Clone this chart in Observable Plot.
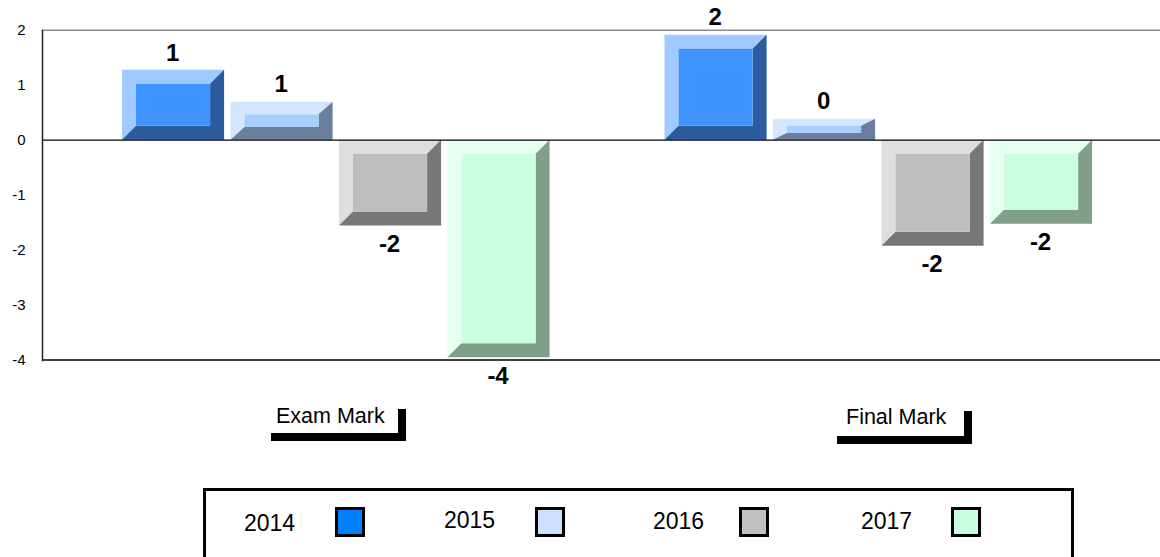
<!DOCTYPE html>
<html>
<head>
<meta charset="utf-8">
<script src="https://cdn.jsdelivr.net/npm/d3@7"></script>
<script src="https://cdn.jsdelivr.net/npm/@observablehq/plot@0.6"></script>
<style>
html,body{margin:0;padding:0;background:#fff;width:1160px;height:557px;overflow:hidden;font-family:"Liberation Sans",Arial,sans-serif;color:#000}
#chart{position:absolute;left:0;top:0}
.abs{position:absolute;white-space:nowrap;line-height:1}
.blk{position:absolute;background:#000}
.sw{position:absolute;box-sizing:border-box;width:30px;height:30px;border:3px solid #000;top:507px}
</style>
</head>
<body>
<div id="chart"></div>
<div id="overlay"></div>
<script>
const groups = ["Exam Mark", "Final Mark"];
const years = ["2014", "2015", "2016", "2017"];
const exam = [1.27, 0.69, -1.56, -3.96];
const final = [1.91, 0.38, -1.93, -1.53];
const yTicks = [2, 1, 0, -1, -2, -3, -4];
const frontColors = ["#3f94ff", "#a8ceff", "#bebebe", "#ccffe0"];
const lightColors = ["#9fc9ff", "#d3e5ff", "#dedede", "#e5fff0"];
const darkColors = ["#2a5c9f", "#6a7f9d", "#777777", "#7f9f8b"];
const legendColors = ["#0080ff", "#cce0ff", "#c0c0c0", "#c8ffe0"];

const rows = [
  ...years.map((year, i) => ({key: groups[0] + year, year: i, value: exam[i]})),
  ...years.map((year, i) => ({key: groups[1] + year, year: i, value: final[i]}))
];
const domain = [...rows.slice(0, 4).map(d => d.key), "gap", ...rows.slice(4).map(d => d.key)];

function bevel(index, scales, values, dims, ctx, next) {
  const g = next(index, scales, values, dims, ctx);
  d3.select(g).selectAll("*").remove();
  const layer = d3.select(g);
  const bw = typeof scales.x.bandwidth === "function" ? scales.x.bandwidth() : scales.x.bandwidth;
  for (const i of index) {
    const d = rows[i];
    const l = scales.x(d.key), r = l + bw;
    const t = Math.min(scales.y(0), scales.y(d.value)), b = Math.max(scales.y(0), scales.y(d.value));
    const bx = 14, by = Math.min(14, (b - t) / 3);
    const poly = (pts, fill) => layer.append("polygon").attr("points", pts.map(p => p.join(",")).join(" ")).attr("fill", fill);
    poly([[l, t], [r, t], [r - bx, t + by], [l + bx, t + by], [l + bx, b - by], [l, b]], lightColors[d.year]);
    poly([[r, t], [r, b], [l, b], [l + bx, b - by], [r - bx, b - by], [r - bx, t + by]], darkColors[d.year]);
    poly([[l + bx, t + by], [r - bx, t + by], [r - bx, b - by], [l + bx, b - by]], frontColors[d.year]);
  }
  return g;
}

const fmt = d => String(Math.round(d.value));
const font = '"Liberation Sans", Arial, sans-serif';
const labelStyle = {x: "key", y: "value", text: fmt, dx: -1, fontSize: 24, fontWeight: "bold", fill: "#000", fontFamily: font};

const plot = Plot.plot({
  width: 1160,
  height: 480,
  marginTop: 30,
  marginBottom: 120,
  marginLeft: 42,
  marginRight: 0,
  style: {fontFamily: font, background: "#fff", overflow: "visible"},
  x: {domain, range: [118.8, 1095.3], paddingInner: 0.059, paddingOuter: 0.0295, round: false, axis: null},
  y: {domain: [2, -4], range: [29.7, 359.5], axis: null},
  marks: [
    Plot.ruleY([2], {stroke: "#555", strokeWidth: 1}),
    Plot.ruleY([-4], {stroke: "#000", strokeWidth: 1.4}),
    Plot.barY(rows, {x: "key", y1: 0, y2: "value", fill: "#fff", render: bevel}),
    Plot.ruleY([0], {stroke: "#000", strokeWidth: 1.2}),
    Plot.frame({anchor: "left", stroke: "#222", strokeWidth: 1.5}),
    Plot.axisY({ticks: yTicks, tickSize: 0, tickPadding: 17, tickFormat: d => String(d), fontSize: 15, label: null, marginLeft: 42}),
    Plot.text(rows.filter(d => d.value > 0), {...labelStyle, dy: -17.5}),
    Plot.text(rows.filter(d => d.value < 0), {...labelStyle, dy: 18.5})
  ]
});
document.getElementById("chart").appendChild(plot);

const ov = document.getElementById("overlay");
function el(cls, css, text) {
  const d = document.createElement("div");
  d.className = cls;
  Object.assign(d.style, css);
  if (text) d.textContent = text;
  ov.appendChild(d);
  return d;
}
[[groups[0], 276, 406, 271, 406, 398, 433, 409], [groups[1], 846, 407, 837, 972, 964, 436, 411]].forEach(([label, tx, ty, hl, hr, vl, ht, vt]) => {
  el("abs", {left: tx + "px", top: ty + "px", fontSize: "21.5px"}, label);
  el("blk", {left: hl + "px", top: ht + "px", width: (hr - hl) + "px", height: "8px"});
  el("blk", {left: vl + "px", top: vt + "px", width: "8px", height: (ht + 8 - vt) + "px"});
});
el("abs", {left: "203px", top: "488px", width: "871px", height: "80px", border: "3px solid #000", boxSizing: "border-box"});
const legendPos = [[244, 512, 335], [444, 509, 535], [653, 510, 739], [861, 510, 951]];
years.forEach((y, i) => {
  const [tx, ty, sx] = legendPos[i];
  el("abs", {left: tx + "px", top: ty + "px", fontSize: "23px"}, y);
  el("sw", {left: sx + "px", background: legendColors[i]});
});
</script>
</body>
</html>
